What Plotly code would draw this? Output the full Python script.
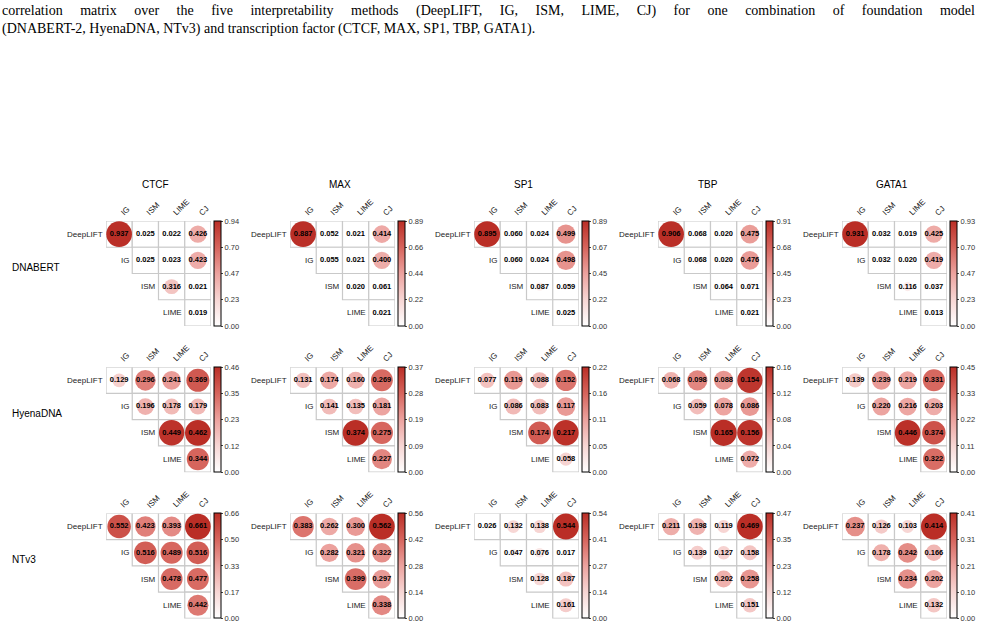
import math
import plotly.graph_objects as go

W, H = 985, 639

row_methods = ["DeepLIFT", "IG", "ISM", "LIME"]
col_methods = ["IG", "ISM", "LIME", "CJ"]
models = ["DNABERT", "HyenaDNA", "NTv3"]
tfs = ["CTCF", "MAX", "SP1", "TBP", "GATA1"]

# upper-triangular values, row-major:
# DeepLIFT(IG,ISM,LIME,CJ), IG(ISM,LIME,CJ), ISM(LIME,CJ), LIME(CJ)
dnabert_ctcf = [0.937, 0.025, 0.022, 0.426, 0.025, 0.023, 0.423, 0.316, 0.021, 0.019]
dnabert_max = [0.887, 0.052, 0.021, 0.414, 0.055, 0.021, 0.400, 0.020, 0.061, 0.021]
dnabert_sp1 = [0.895, 0.060, 0.024, 0.499, 0.060, 0.024, 0.498, 0.087, 0.059, 0.025]
dnabert_tbp = [0.906, 0.068, 0.020, 0.475, 0.068, 0.020, 0.476, 0.064, 0.071, 0.021]
dnabert_gata1 = [0.931, 0.032, 0.019, 0.425, 0.032, 0.020, 0.419, 0.116, 0.037, 0.013]

hyena_ctcf = [0.129, 0.296, 0.241, 0.369, 0.196, 0.178, 0.179, 0.449, 0.462, 0.344]
hyena_max = [0.131, 0.174, 0.160, 0.269, 0.141, 0.135, 0.181, 0.374, 0.275, 0.227]
hyena_sp1 = [0.077, 0.119, 0.088, 0.152, 0.086, 0.083, 0.117, 0.174, 0.217, 0.058]
hyena_tbp = [0.068, 0.098, 0.088, 0.154, 0.059, 0.078, 0.086, 0.165, 0.156, 0.072]
hyena_gata1 = [0.139, 0.239, 0.219, 0.331, 0.220, 0.216, 0.203, 0.446, 0.374, 0.322]

ntv3_ctcf = [0.552, 0.423, 0.393, 0.661, 0.516, 0.489, 0.516, 0.478, 0.477, 0.442]
ntv3_max = [0.383, 0.262, 0.300, 0.562, 0.282, 0.321, 0.322, 0.399, 0.297, 0.338]
ntv3_sp1 = [0.026, 0.132, 0.138, 0.544, 0.047, 0.076, 0.017, 0.128, 0.187, 0.161]
ntv3_tbp = [0.211, 0.198, 0.119, 0.469, 0.139, 0.127, 0.158, 0.202, 0.258, 0.151]
ntv3_gata1 = [0.237, 0.126, 0.103, 0.414, 0.178, 0.242, 0.166, 0.234, 0.202, 0.132]

# colorbar tick labels (bottom to top)
cbar_dnabert = [["0.00", "0.23", "0.47", "0.70", "0.94"],
                ["0.00", "0.22", "0.44", "0.66", "0.89"],
                ["0.00", "0.22", "0.45", "0.67", "0.89"],
                ["0.00", "0.23", "0.45", "0.68", "0.91"],
                ["0.00", "0.23", "0.47", "0.70", "0.93"]]
cbar_hyena = [["0.00", "0.12", "0.23", "0.35", "0.46"],
              ["0.00", "0.09", "0.19", "0.28", "0.37"],
              ["0.00", "0.05", "0.11", "0.16", "0.22"],
              ["0.00", "0.04", "0.08", "0.12", "0.16"],
              ["0.00", "0.11", "0.22", "0.33", "0.45"]]
cbar_ntv3 = [["0.00", "0.17", "0.33", "0.50", "0.66"],
             ["0.00", "0.14", "0.28", "0.42", "0.56"],
             ["0.00", "0.14", "0.27", "0.41", "0.54"],
             ["0.00", "0.12", "0.23", "0.35", "0.47"],
             ["0.00", "0.10", "0.21", "0.31", "0.41"]]

data_grid = [[dnabert_ctcf, dnabert_max, dnabert_sp1, dnabert_tbp, dnabert_gata1],
             [hyena_ctcf, hyena_max, hyena_sp1, hyena_tbp, hyena_gata1],
             [ntv3_ctcf, ntv3_max, ntv3_sp1, ntv3_tbp, ntv3_gata1]]
cbar_grid = [cbar_dnabert, cbar_hyena, cbar_ntv3]

caption_1 = "correlation matrix over the five interpretability methods (DeepLIFT, IG, ISM, LIME, CJ) for one combination of foundation model"
caption_2 = "(DNABERT-2, HyenaDNA, NTv3) and transcription factor (CTCF, MAX, SP1, TBP, GATA1)."

# ---------------- layout geometry (pixels) ----------------
LEFT0, TOP0, DX, DY, SIZE = 106, 221, 184, 146.2, 105
CELL = SIZE / 4.0
FONT = "Liberation Sans, Arial, sans-serif"
SERIF = "Liberation Serif, Times New Roman, serif"
colorscale = [[0.0, "#FFFFFF"], [0.25, "#F7D6D4"], [0.5, "#ECA29E"],
              [0.75, "#D6645C"], [1.0, "#BA2E26"]]


def fx(px):
    return px / W


def fy(py):
    return 1 - py / H


fig = go.Figure()
layout = dict(width=W, height=H, margin=dict(l=0, r=0, t=0, b=0),
              paper_bgcolor="white", plot_bgcolor="rgba(0,0,0,0)",
              showlegend=False)
shapes = []
annotations = []

# upper triangle index pairs
pairs = [(i, j) for i in range(4) for j in range(4) if j >= i]

k = 0
for r, model in enumerate(models):
    for c, tf in enumerate(tfs):
        k += 1
        vals = data_grid[r][c]
        ticks = cbar_grid[r][c]
        cmax = float(ticks[-1])
        left = LEFT0 + DX * c
        top = TOP0 + DY * r
        xa = "x" if k == 1 else f"x{k}"
        ya = "y" if k == 1 else f"y{k}"
        ca = "coloraxis" if k == 1 else f"coloraxis{k}"
        layout[f"xaxis{'' if k == 1 else k}"] = dict(
            domain=[fx(left), fx(left + SIZE)], range=[0.5, 4.5],
            visible=False, fixedrange=True, anchor=ya)
        layout[f"yaxis{'' if k == 1 else k}"] = dict(
            domain=[fy(top + SIZE), fy(top)], range=[4.5, 0.5],
            visible=False, fixedrange=True, anchor=xa)
        layout[ca] = dict(
            cmin=0, cmax=cmax, colorscale=colorscale,
            colorbar=dict(x=fx(left + SIZE + 3), xanchor="left",
                          y=fy(top), yanchor="top",
                          len=SIZE, lenmode="pixels", thickness=7,
                          xpad=0, ypad=0, outlinewidth=1, outlinecolor="black",
                          tickvals=[cmax * q / 4 for q in range(5)],
                          ticktext=ticks, ticks="outside", ticklen=2,
                          tickcolor="#444", tickwidth=0.8,
                          tickfont=dict(size=7.5, color="#333", family=FONT)))

        xs, ys, cols, sizes, txt = [], [], [], [], []
        for (i, j), v in zip(pairs, vals):
            xs.append(j + 1)
            ys.append(i + 1)
            cols.append(v)
            sizes.append(CELL * 0.98 * math.sqrt(max(v, 0) / cmax))
            txt.append(f"{v:.3f}")
            shapes.append(dict(type="rect", xref=xa, yref=ya,
                               x0=j + 0.5, x1=j + 1.5, y0=i + 0.5, y1=i + 1.5,
                               line=dict(color="#C9C9C9", width=1.2),
                               fillcolor="white", layer="below"))
        fig.add_trace(go.Scatter(
            x=xs, y=ys, mode="markers+text", xaxis=xa, yaxis=ya,
            marker=dict(size=sizes, color=cols, coloraxis=ca,
                        line=dict(width=0), opacity=1),
            text=txt, textposition="middle center",
            textfont=dict(size=7.5, color="black", family=FONT, weight="bold"),
            hoverinfo="skip", cliponaxis=False))

        # row labels
        for i, name in enumerate(row_methods):
            annotations.append(dict(xref=xa, yref=ya, x=i + 0.5, y=i + 1,
                                    text=name, showarrow=False,
                                    xanchor="right", yanchor="middle", xshift=-1,
                                    font=dict(size=8, color="#222", family=FONT)))
        # column labels
        for j, name in enumerate(col_methods):
            annotations.append(dict(xref=xa, yref=ya, x=j + 0.88, y=0.5,
                                    text=name, showarrow=False, textangle=-45,
                                    xanchor="left", yanchor="bottom", yshift=1,
                                    font=dict(size=8, color="#222", family=FONT)))

# column titles
for c, tf in enumerate(tfs):
    annotations.append(dict(xref="paper", yref="paper",
                            x=fx(LEFT0 + DX * c + SIZE / 2 - 3), y=fy(185),
                            text=tf, showarrow=False, xanchor="center",
                            yanchor="middle",
                            font=dict(size=10, color="black", family=FONT)))
# row titles
for r, model in enumerate(models):
    annotations.append(dict(xref="paper", yref="paper",
                            x=fx(10), y=fy(TOP0 + DY * r + SIZE / 2 - 6),
                            text=model, showarrow=False, xanchor="left",
                            yanchor="middle",
                            font=dict(size=10, color="black", family=FONT)))

# caption text (justified first line approximated with extra spaces)
cap1 = caption_1.replace(" ", "\u00a0" * 5)
annotations.append(dict(xref="paper", yref="paper", x=0, y=fy(11),
                        text=cap1, showarrow=False, xanchor="left",
                        yanchor="middle",
                        font=dict(size=14, color="black", family=SERIF)))
annotations.append(dict(xref="paper", yref="paper", x=0, y=fy(29),
                        text=caption_2, showarrow=False, xanchor="left",
                        yanchor="middle",
                        font=dict(size=14, color="black", family=SERIF)))

layout["shapes"] = shapes
layout["annotations"] = annotations
fig.update_layout(**layout)
fig.write_html("out.html")
